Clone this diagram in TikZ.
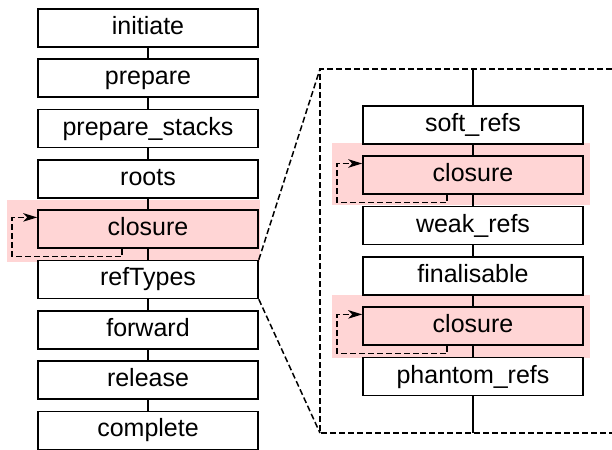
\documentclass[tikz,border=0pt]{standalone}
\usepackage{fontspec}
\setmainfont{Liberation Sans}
\usetikzlibrary{arrows.meta}
\definecolor{hl}{RGB}{255,213,213}
\tikzset{backtip/.tip={Stealth[length=14bp,width=8.5bp,inset=4bp]}}
\begin{document}
\begin{tikzpicture}[x=1bp,y=-1bp,
  phase/.style={draw, line width=1.6bp, fill=white, minimum width=220bp,
    minimum height=38bp, inner sep=0pt, text height=18bp, text depth=5bp,
    font=\fontsize{25bp}{30bp}\selectfont},
  hot/.style={phase, fill=hl},
  link/.style={line width=1.6bp},
  dashline/.style={line width=1.5bp, dash pattern=on 6bp off 3bp},
  band/.style={fill=hl, draw=none}]
\useasboundingbox (0,0) rectangle (612,450);

% highlight bands behind the closure phases
\fill[band] (7,200) rectangle (260,262);
\fill[band] (332,143) rectangle (590,205);
\fill[band] (332,295) rectangle (590,358);

% main phase sequence
\node[phase] (ini) at (148,28)    {initiate};
\node[phase] (pre) at (148,78.3)  {prepare};
\node[phase] (pst) at (148,128.6) {prepare\_stacks};
\node[phase] (roo) at (148,178.9) {roots};
\node[hot]   (cl)  at (148,229.2) {closure};
\node[phase] (rt)  at (148,279.5) {refTypes};
\node[phase] (fwd) at (148,329.8) {forward};
\node[phase] (rel) at (148,380.1) {release};
\node[phase] (cmp) at (148,430.4) {complete};

\foreach \a/\b in {ini/pre,pre/pst,pst/roo,roo/cl,cl/rt,rt/fwd,fwd/rel,rel/cmp}
  \draw[link] (\a) -- (\b);

% expanded view of refTypes
\coordinate (zt)  at (320,69);
\coordinate (zb)  at (320,433);
\coordinate (ztr) at (612,69);
\coordinate (zbr) at (612,433);
\coordinate (axt) at (473,69);
\coordinate (axb) at (473,433);
\draw[dashline] (ztr) -- (zt) -- (zb) -- (zbr);
\draw[dashline] (rt.north east) -- (zt);
\draw[dashline] (rt.south east) -- (zb);

\node[phase] (sr)  at (473,125)   {soft\_refs};
\node[hot]   (c1)  at (473,175.3) {closure};
\node[phase] (wr)  at (473,225.6) {weak\_refs};
\node[phase] (fin) at (473,275.9) {finalisable};
\node[hot]   (c2)  at (473,326.2) {closure};
\node[phase] (pr)  at (473,376.5) {phantom\_refs};

\draw[link] (axt) -- (sr);
\foreach \a/\b in {sr/c1,c1/wr,wr/fin,fin/c2,c2/pr}
  \draw[link] (\a) -- (\b);
\draw[link] (pr) -- (axb);

% repeat loops on the closure phases
\foreach \n in {cl,c1,c2}{
  \coordinate (\n-out) at ([xshift=85bp]\n.south west);
  \coordinate (\n-in)  at ([yshift=-8bp]\n.north west);
  \draw[dashline, -backtip] (\n-out) -- ++(0,7.5)
    -| ([xshift=-25bp]\n-in) -- (\n-in);
}
\end{tikzpicture}
\end{document}
